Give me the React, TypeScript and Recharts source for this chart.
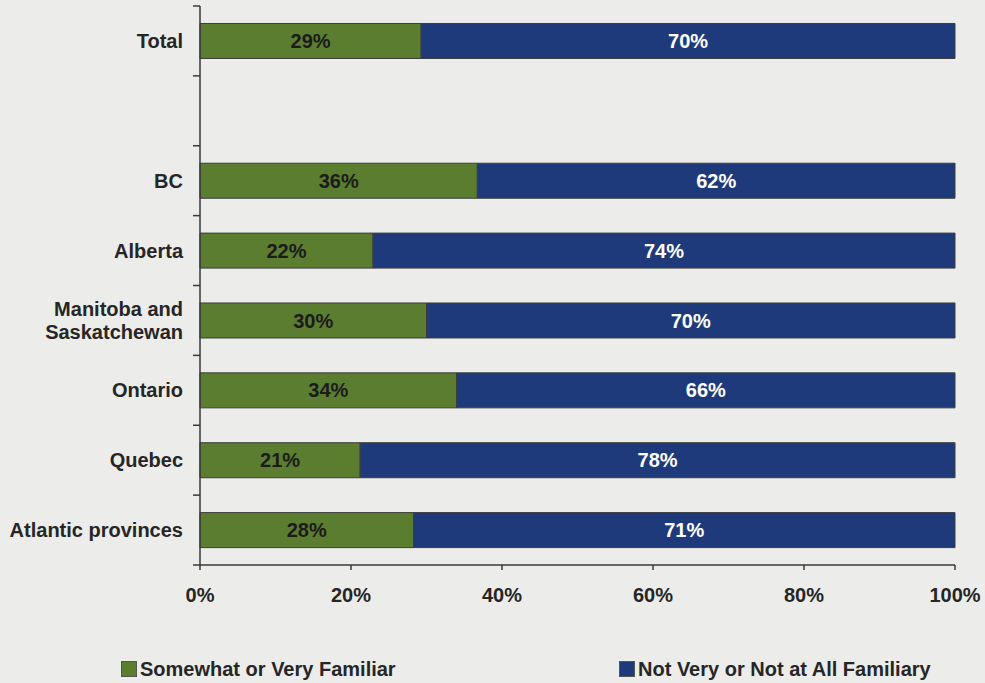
import React from 'react';
import { BarChart, Bar, XAxis, YAxis, Legend, LabelList } from 'recharts';

// Familiarity by region (raw survey %, shown as 100% stacked bars)
const regions = [
  'Total',
  '',
  'BC',
  'Alberta',
  'Manitoba and\nSaskatchewan',
  'Ontario',
  'Quebec',
  'Atlantic provinces',
];
// the blank spacer row has no values
const familiar = [29, 0, 36, 22, 30, 34, 21, 28];
const notFamiliar = [70, 0, 62, 74, 70, 66, 78, 71];
const xTicks = [0, 0.2, 0.4, 0.6, 0.8, 1];

const SERIES = [
  { key: 'familiar', name: 'Somewhat or Very Familiar', color: '#5b7d30', text: '#1b1b1b' },
  { key: 'notFamiliar', name: 'Not Very or Not at All Familiary', color: '#1f3a7a', text: '#ffffff' },
];

const FONT = '"Liberation Sans", Arial, Helvetica, sans-serif';
const AXIS = '#3a3a3a';

const data = regions.map((region, i) => ({
  region,
  familiar: familiar[i],
  notFamiliar: notFamiliar[i],
}));

// category tick: label plus a tick mark on the band boundary
const RegionTick = (props: any) => {
  const { x, y, payload, index, visibleTicksCount } = props;
  const half = payload.offset || 35;
  const lines = String(payload.value).split('\n');
  const axisX = x + 17;
  return (
    <g>
      <line x1={axisX - 7} x2={axisX} y1={y - half} y2={y - half} stroke={AXIS} strokeWidth={1.5} />
      {index === visibleTicksCount - 1 && (
        <line x1={axisX - 7} x2={axisX} y1={y + half} y2={y + half} stroke={AXIS} strokeWidth={1.5} />
      )}
      <text
        x={x}
        y={y}
        textAnchor="end"
        fontFamily={FONT}
        fontWeight="bold"
        fontSize={20}
        fill="#262626"
      >
        {lines.map((line, i) => (
          <tspan key={i} x={x} dy={i === 0 ? `${0.35 - (lines.length - 1) * 0.58}em` : '1.15em'}>
            {line}
          </tspan>
        ))}
      </text>
    </g>
  );
};

const LegendContent = () => (
  <div style={{ position: 'relative', width: 985, height: 30, fontFamily: FONT, fontWeight: 'bold', fontSize: 20, color: '#262626' }}>
    {SERIES.map((s, i) => (
      <div
        key={s.key}
        style={{ position: 'absolute', left: i === 0 ? 121 : 619, top: 0, height: 30, display: 'flex', alignItems: 'center', whiteSpace: 'nowrap' }}
      >
        <span style={{ display: 'inline-block', width: 14, height: 14, background: s.color, border: '1px solid #555', marginRight: 3 }} />
        {s.name}
      </div>
    ))}
  </div>
);

const pct = (v: any) => (!v ? '' : `${v}%`);

export default function App() {
  return (
    <div style={{ position: 'absolute', left: 0, top: 0, width: 985, height: 683, background: '#ececea' }}>
      <BarChart
        width={985}
        height={683}
        data={data}
        layout="vertical"
        stackOffset="expand"
        barCategoryGap="25%"
        margin={{ top: 6, right: 30, bottom: 48, left: 0 }}
      >
        <XAxis
          type="number"
          ticks={xTicks}
          tickFormatter={(v: number) => `${Math.round(v * 100)}%`}
          stroke={AXIS}
          strokeWidth={1.5}
          tickSize={5}
          tickMargin={18}
          height={40}
          tick={{ fontFamily: FONT, fontWeight: 'bold', fontSize: 20, fill: '#262626' }}
        />
        <YAxis
          type="category"
          dataKey="region"
          width={200}
          stroke={AXIS}
          strokeWidth={1.5}
          tickLine={false}
          tickSize={7}
          tickMargin={10}
          interval={0}
          tick={<RegionTick />}
        />
        <Legend wrapperStyle={{ top: 654, left: 0, width: 985, height: 30 }} content={<LegendContent />} />
        {SERIES.map((s) => (
          <Bar
            key={s.key}
            dataKey={s.key}
            name={s.name}
            stackId="a"
            fill={s.color}
            stroke="#3c3c3c"
            strokeWidth={1}
            isAnimationActive={false}
          >
            <LabelList
              dataKey={s.key}
              position="center"
              formatter={pct}
              fill={s.text}
              fontFamily={FONT}
              fontWeight="bold"
              fontSize={20}
            />
          </Bar>
        ))}
      </BarChart>
    </div>
  );
}
